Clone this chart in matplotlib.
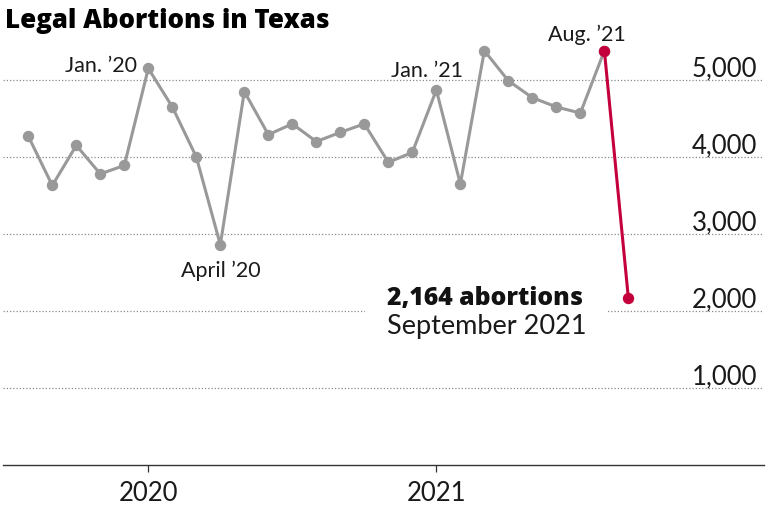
import matplotlib
matplotlib.use("Agg")
import matplotlib.pyplot as plt
import matplotlib.transforms as mtransforms

# ---- data ----
months = ["Aug 2019", "Sep 2019", "Oct 2019", "Nov 2019", "Dec 2019",
          "Jan 2020", "Feb 2020", "Mar 2020", "Apr 2020", "May 2020", "Jun 2020",
          "Jul 2020", "Aug 2020", "Sep 2020", "Oct 2020", "Nov 2020", "Dec 2020",
          "Jan 2021", "Feb 2021", "Mar 2021", "Apr 2021", "May 2021", "Jun 2021",
          "Jul 2021", "Aug 2021", "Sep 2021"]
abortions = [4270, 3630, 4150, 3780, 3890,
             5150, 4650, 4000, 2860, 4850, 4290,
             4430, 4200, 4320, 4430, 3930, 4060,
             4870, 3650, 5380, 4990, 4770, 4650,
             4570, 5380, 2164]
year_ticks = ["Jan 2020", "Jan 2021"]
year_labels = ["2020", "2021"]
y_ticks = [1000, 2000, 3000, 4000, 5000]
y_tick_labels = ["1,000", "2,000", "3,000", "4,000", "5,000"]
callouts = {"Jan 2020": "Jan. \u201920", "Apr 2020": "April \u201920",
            "Jan 2021": "Jan. \u201921", "Aug 2021": "Aug. \u201921"}

GRAY = "#999999"
RED = "#c4003c"
TXT = "#1a1a1a"
OPEN = ["Open Sans", "DejaVu Sans"]

plt.rcParams["font.family"] = ["Lato", "DejaVu Sans"]

fig = plt.figure(figsize=(7.68, 5.07), dpi=100)
ax = fig.add_axes([3 / 768, 42 / 507, 761 / 768, 435 / 507])

x = list(range(len(months)))
ax.set_xlim(-1.054, 30.65)
ax.set_ylim(0, 5649)

# gray series up to Aug 2021
ax.plot(x[:-1], abortions[:-1], color=GRAY, lw=2.2, marker="o", ms=7.2,
        mec=GRAY, mfc=GRAY, zorder=4)
# red segment Aug -> Sep 2021
ax.plot(x[-2:], abortions[-2:], color=RED, lw=2.2, marker="o", ms=7.2,
        mec=RED, mfc=RED, zorder=5)

# grid
ax.set_yticks(y_ticks)
ax.yaxis.grid(True, color="#8a8a8a", linestyle=(0, (1, 1.6)), linewidth=0.9, zorder=1)
ax.tick_params(axis="y", left=False, labelleft=False)

# y tick labels inside on the right
for v, lab in zip(y_ticks, y_tick_labels):
    tr = mtransforms.offset_copy(ax.get_yaxis_transform(), fig=fig, x=0, y=2.5, units="points")
    ax.text(0.9908, v, lab, transform=tr, ha="right", va="baseline",
            fontsize=18.5, color=TXT, zorder=3)

# x axis
for s in ["top", "right", "left"]:
    ax.spines[s].set_visible(False)
ax.spines["bottom"].set_color("#333333")
ax.spines["bottom"].set_linewidth(1.0)
ax.set_xticks([months.index(m) for m in year_ticks])
ax.set_xticklabels(year_labels, fontsize=18.5, color=TXT)
ax.tick_params(axis="x", length=5, width=0.9, color="#333333", pad=6.5)

# callout labels
offsets = {"Jan 2020": (-8, -2.7, "right"), "Apr 2020": (0, -23.5, "center"),
           "Jan 2021": (-7, 9.4, "center"), "Aug 2021": (-12.3, 6.7, "center")}
for m, lab in callouts.items():
    i = months.index(m)
    dx, dy, ha = offsets[m]
    tr = mtransforms.offset_copy(ax.transData, fig=fig, x=dx, y=dy, units="points")
    ax.text(i, abortions[i], lab, transform=tr, ha=ha, va="baseline",
            fontsize=15.5, color=TXT, zorder=6)

# annotation for September 2021
i = len(months) - 1
tr = mtransforms.offset_copy(ax.transData, fig=fig, x=-173.5, y=-4.5, units="points")
ax.text(i, abortions[i], f"{abortions[i]:,} abortions", transform=tr,
        ha="left", va="baseline", fontsize=17.8, fontweight="heavy", color="#121212",
        family=OPEN, zorder=3,
        bbox=dict(facecolor="white", edgecolor="none", pad=16))
tr2 = mtransforms.offset_copy(ax.transData, fig=fig, x=-173.5, y=-25.5, units="points")
ax.text(i, abortions[i], "September 2021", transform=tr2, ha="left", va="baseline",
        fontsize=19.5, color=TXT, zorder=3)

# title
fig.text(5 / 768, 1 - 28 / 507, "Legal Abortions in Texas", ha="left", va="baseline",
         fontsize=18.6, fontweight="heavy", color="#000000", family=OPEN)

fig.savefig("out.png", dpi=100)
